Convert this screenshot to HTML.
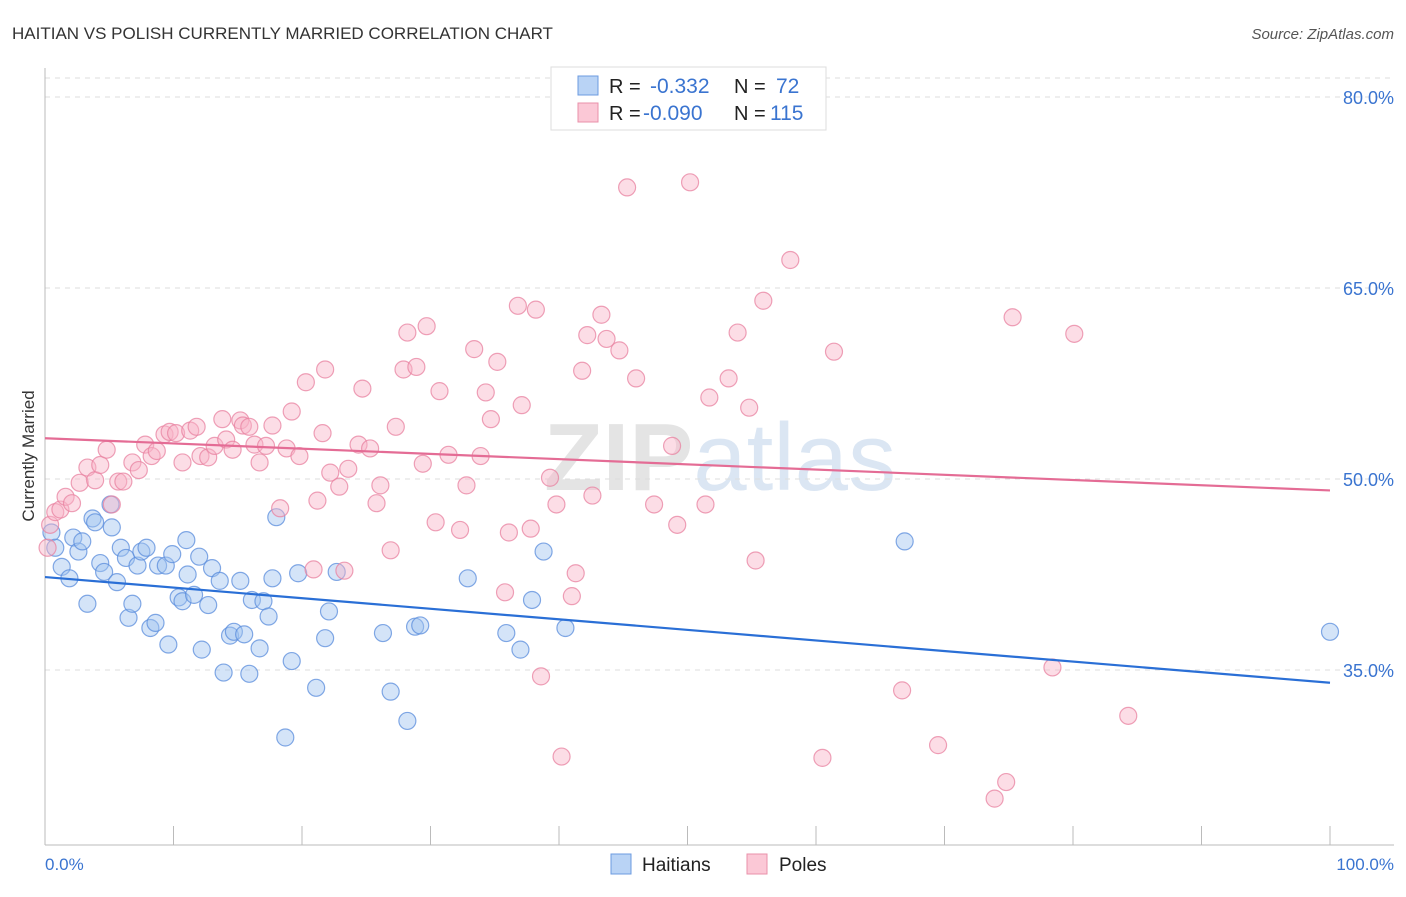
<!DOCTYPE html>
<html><head><meta charset="utf-8"><style>
body{margin:0;background:#fff;font-family:"Liberation Sans",sans-serif;}
svg text{font-family:"Liberation Sans",sans-serif;}
</style></head><body>
<svg width="1406" height="892" id="chart">
<text x="12" y="39" font-size="17" fill="#333">HAITIAN VS POLISH CURRENTLY MARRIED CORRELATION CHART</text>
<text x="1394" y="39" font-size="15" fill="#555" text-anchor="end" font-style="italic">Source: ZipAtlas.com</text>
<text x="720" y="490" font-size="96" fill="#e4e4e4" text-anchor="middle" font-family="Liberation Serif"><tspan font-weight="bold">ZIP</tspan><tspan fill="#dbe6f3" font-family="Liberation Sans">atlas</tspan></text>
<g id="grid"></g><g id="axes"></g><g id="pts"></g><g id="trend"></g>
<text transform="translate(34,456) rotate(-90)" font-size="17" fill="#333" text-anchor="middle">Currently Married</text>
<text x="45" y="870" font-size="17" fill="#3a74d0">0.0%</text>
<text x="1394" y="870" font-size="17" fill="#3a74d0" text-anchor="end">100.0%</text>
<g>
<rect x="551" y="67" width="275" height="63" fill="#fff" stroke="#ddd"/>
<rect x="578" y="76" width="20" height="19" fill="#b9d3f5" stroke="#6c9be0"/>
<rect x="578" y="103" width="20" height="19" fill="#fbc8d6" stroke="#ea90aa"/>
<text x="609" y="93" font-size="20" fill="#222">R = </text><text x="650" y="93" font-size="21" fill="#3a74d0">-0.332</text>
<text x="734" y="93" font-size="20" fill="#222">N = </text><text x="776" y="93" font-size="21" fill="#3a74d0">72</text>
<text x="609" y="120" font-size="20" fill="#222">R = </text><text x="643" y="120" font-size="21" fill="#3a74d0">-0.090</text>
<text x="734" y="120" font-size="20" fill="#222">N = </text><text x="770" y="120" font-size="21" fill="#3a74d0">115</text>
</g>
<g>
<rect x="611" y="854" width="20" height="20" fill="#b9d3f5" stroke="#6c9be0"/>
<text x="642" y="871" font-size="19" fill="#222">Haitians</text>
<rect x="747" y="854" width="20" height="20" fill="#fbc8d6" stroke="#ea90aa"/>
<text x="779" y="871" font-size="19" fill="#222">Poles</text>
</g>
</svg>
<script>
const yTicks=[80,65,50,35];
const xTicks=[0,10,20,30,40,50,60,70,80,90,100];
const blueX=[0.5,0.8,1.3,1.9,2.2,2.6,2.9,3.3,3.7,3.9,4.3,4.6,5.1,5.2,5.6,5.9,6.3,6.5,6.8,7.2,7.5,7.9,8.2,8.6,8.8,9.4,9.6,9.9,10.4,10.7,11.0,11.1,11.6,12.0,12.2,12.7,13.0,13.6,13.9,14.4,14.7,15.2,15.5,15.9,16.1,16.7,17.0,17.4,17.7,18.0,18.7,19.2,19.7,21.1,21.8,22.1,22.7,26.3,26.9,28.2,28.8,29.2,32.9,35.9,37.0,37.9,38.8,40.5,66.9,100];
const blueY=[45.8,44.6,43.1,42.2,45.4,44.3,45.1,40.2,46.9,46.6,43.4,42.7,48.0,46.2,41.9,44.6,43.8,39.1,40.2,43.2,44.3,44.6,38.3,38.7,43.2,43.2,37.0,44.1,40.7,40.4,45.2,42.5,40.9,43.9,36.6,40.1,43.0,42.0,34.8,37.7,38.0,42.0,37.8,34.7,40.5,36.7,40.4,39.2,42.2,47.0,29.7,35.7,42.6,33.6,37.5,39.6,42.7,37.9,33.3,31.0,38.4,38.5,42.2,37.9,36.6,40.5,44.3,38.3,45.1,38.0];
const pinkX=[0.2,0.4,0.8,1.2,1.6,2.1,2.7,3.3,3.9,4.3,4.8,5.2,5.7,6.1,6.8,7.3,7.8,8.3,8.7,9.3,9.7,10.2,10.7,11.3,11.8,12.1,12.7,13.2,13.8,14.1,14.6,15.2,15.4,15.9,16.3,16.7,17.2,17.7,18.3,18.8,19.2,19.8,20.3,20.9,21.2,21.6,21.8,22.2,22.9,23.3,23.6,24.4,24.7,25.3,25.8,26.1,26.9,27.3,27.9,28.2,28.9,29.4,29.7,30.4,30.7,31.4,32.3,32.8,33.4,33.9,34.3,34.7,35.2,35.8,36.1,36.8,37.1,37.8,38.2,38.6,39.3,39.8,40.2,41.0,41.3,41.8,42.2,42.6,43.3,43.7,44.7,45.3,46.0,47.4,48.8,49.2,50.2,51.4,51.7,53.2,53.9,54.8,55.3,55.9,58.0,60.5,61.4,66.7,69.5,73.9,74.8,75.3,78.4,80.1,84.3];
const pinkY=[44.6,46.4,47.4,47.6,48.6,48.1,49.7,50.9,49.9,51.1,52.3,48.0,49.8,49.8,51.3,50.7,52.7,51.8,52.2,53.5,53.7,53.6,51.3,53.8,54.1,51.8,51.7,52.6,54.7,53.1,52.3,54.6,54.2,54.1,52.7,51.3,52.6,54.2,47.7,52.4,55.3,51.8,57.6,42.9,48.3,53.6,58.6,50.5,49.4,42.8,50.8,52.7,57.1,52.4,48.1,49.5,44.4,54.1,58.6,61.5,58.8,51.2,62.0,46.6,56.9,51.9,46.0,49.5,60.2,51.8,56.8,54.7,59.2,41.1,45.8,63.6,55.8,46.1,63.3,34.5,50.1,48.0,28.2,40.8,42.6,58.5,61.3,48.7,62.9,61.0,60.1,72.9,57.9,48.0,52.6,46.4,73.3,48.0,56.4,57.9,61.5,55.6,43.6,64.0,67.2,28.1,60.0,33.4,29.1,24.9,26.2,62.7,35.2,61.4,31.4];
const blueTrend=[42.3,34.0];
const pinkTrend=[53.2,49.1];
const NS="http://www.w3.org/2000/svg";
const X0=45,X1=1330,Y80=97,Y35=670;
const sx=v=>X0+(X1-X0)*v/100;
const sy=v=>Y80+(80-v)*(Y35-Y80)/45;
function mk(t,a,p){const e=document.createElementNS(NS,t);for(const k in a)e.setAttribute(k,a[k]);p.appendChild(e);return e;}
const grid=document.getElementById('grid'),axes=document.getElementById('axes'),pts=document.getElementById('pts'),trend=document.getElementById('trend');
mk('line',{x1:45,y1:78,x2:1394,y2:78,stroke:'#ddd','stroke-dasharray':'5,5'},grid);
yTicks.forEach(t=>{
 const l=mk('line',{x1:45,y1:sy(t),x2:1394,y2:sy(t),stroke:'#ddd','stroke-dasharray':'5,5'},grid);
 
 
 const tx=mk('text',{x:1394,y:sy(t)+7,'font-size':18,fill:'#3a74d0','text-anchor':'end'},grid);
 tx.textContent=t.toFixed(1)+'%';
 
 
});
mk('line',{x1:45,y1:68,x2:45,y2:845,stroke:'#bbb'},axes);
mk('line',{x1:45,y1:845,x2:1394,y2:845,stroke:'#bbb'},axes);
xTicks.forEach(t=>{
 const l=mk('line',{x1:sx(t),y1:826,x2:sx(t),y2:845,stroke:'#bbb'},axes);
 
 
});
function dots(xs,ys,fill,stroke,name){
 xs.forEach((x,i)=>{
  const c=mk('circle',{cx:sx(x),cy:sy(ys[i]),r:8.5,fill:fill,stroke:stroke,'stroke-width':1.2},pts);
  
  
 });
}
dots(blueX,blueY,'rgba(160,195,240,0.45)','rgba(90,140,220,0.75)','haitian-point');
dots(pinkX,pinkY,'rgba(248,180,200,0.45)','rgba(232,130,160,0.75)','polish-point');
const bt=mk('line',{x1:sx(0),y1:sy(blueTrend[0]),x2:sx(100),y2:sy(blueTrend[1]),stroke:'#2a6fd6','stroke-width':2.2},trend);


const pt=mk('line',{x1:sx(0),y1:sy(pinkTrend[0]),x2:sx(100),y2:sy(pinkTrend[1]),stroke:'#e46c95','stroke-width':2.2},trend);


</script>
</body></html>
